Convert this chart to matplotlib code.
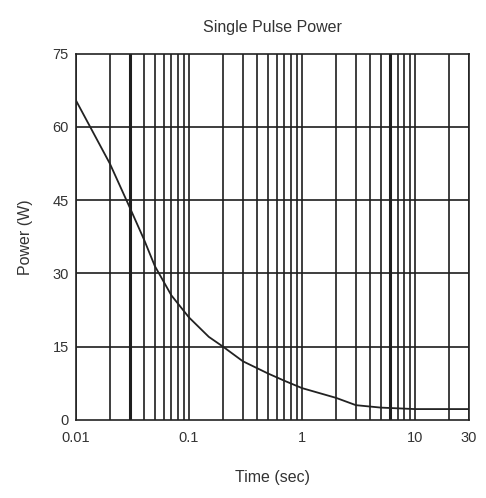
import matplotlib
matplotlib.use('Agg')
import matplotlib.pyplot as plt
from matplotlib.ticker import FixedLocator, NullLocator, FixedFormatter

# Data
time_s = [0.01, 0.02, 0.03, 0.04, 0.05, 0.07, 0.1, 0.15, 0.2, 0.3, 0.5, 0.7, 1, 2, 3, 5, 10, 30]
power_w = [65.5, 52.5, 43.5, 37, 31.5, 25.5, 21, 17, 15, 12, 9.5, 8, 6.5, 4.5, 3, 2.5, 2.2, 2.2]

x_ticks = [0.01, 0.1, 1, 10, 30]
x_labels = ['0.01', '0.1', '1', '10', '30']
y_ticks = [0, 15, 30, 45, 60, 75]

# vertical grid: every log step from 0.01 to 30
grid_x = [m * d for d in (0.01, 0.1, 1, 10) for m in range(1, 10) if m * d <= 30]
thick_x = [0.03, 6]

plt.rcParams['font.family'] = ['Liberation Sans', 'DejaVu Sans']
txt = '#333333'

fig = plt.figure(figsize=(4.86, 4.98), dpi=100)
ax = fig.add_axes([0.156, 0.157, 0.809, 0.735])

for gx in grid_x:
    lw = 2.2 if gx in thick_x else 1.2
    ax.axvline(gx, color='#1e1e1e', linewidth=lw, zorder=1)
for gy in y_ticks[1:-1]:
    ax.axhline(gy, color='#1e1e1e', linewidth=1.2, zorder=1)

ax.plot(time_s, power_w, color='#222222', linewidth=1.3, zorder=2)

ax.set_xscale('log')
ax.set_xlim(0.01, 30)
ax.set_ylim(0, 75)
ax.xaxis.set_major_locator(FixedLocator(x_ticks))
ax.xaxis.set_major_formatter(FixedFormatter(x_labels))
ax.xaxis.set_minor_locator(NullLocator())
ax.set_yticks(y_ticks)
ax.tick_params(length=0, labelsize=10.5, labelcolor=txt)
ax.tick_params(axis='x', pad=8)
ax.tick_params(axis='y', pad=5)
for s in ax.spines.values():
    s.set_color('#222222')
    s.set_linewidth(1.2)

ax.set_title('Single Pulse Power', fontsize=11.5, color=txt, pad=16)
ax.set_xlabel('Time (sec)', fontsize=11.5, color=txt, labelpad=18)
ax.set_ylabel('Power (W)', fontsize=11.5, color=txt, labelpad=14)

fig.savefig('out.png', dpi=100)
